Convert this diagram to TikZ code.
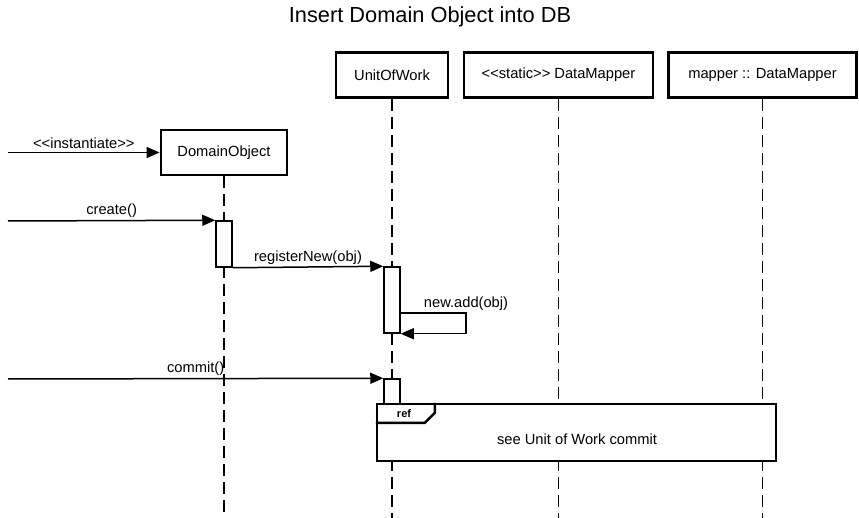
\documentclass[tikz,border=0pt]{standalone}
\usepackage{fontspec}
\setmainfont{Liberation Sans}
\usetikzlibrary{arrows.meta}

\begin{document}
\begin{tikzpicture}[x=1pt,y=-1pt,
    txt/.style={font=\fontsize{14.7}{17}\selectfont},
    head/.style={txt, draw, fill=white, line width=2.8pt, minimum height=45pt, inner sep=0pt},
    act/.style={draw, fill=white, line width=1.5pt, minimum width=16pt, inner sep=0pt},
    life/.style={line width=1.5pt, dash pattern=on 12pt off 6pt},
    msg/.style={line width=1.5pt, -{Triangle[length=13pt,width=11pt]}},
    lbl/.style={txt, inner sep=2pt, anchor=south}]

        \useasboundingbox (0,0) rectangle (859,518);

        %===========================
        % Title
        %===========================
        \node (T) at (430,17) [font=\fontsize{21.8}{25}\selectfont]{Insert Domain Object into DB};

        %===========================
        % Lifelines
        %===========================
        \draw node (UoW) at (392,75) [head, minimum width=112pt]{UnitOfWork};
        \draw node (SDM) at (558.5,75) [head, minimum width=189pt]{{<}{<}static{>}{>} DataMapper};
        \draw node (MDM) at (762.5,75) [head, minimum width=188pt]{mapper :: DataMapper};
        \draw node (DO) at (224,152.5) [head, minimum width=126pt]{DomainObject};

        \coordinate (UoWend) at (392,518);
        \coordinate (SDMend) at (558.5,518);
        \coordinate (MDMend) at (762.5,518);
        \coordinate (DOend) at (224,518);
        \draw[life] (UoW.south) -- (UoWend);
        \draw[life] (SDM.south) -- (SDMend);
        \draw[life] (MDM.south) -- (MDMend);
        \draw[life] (DO.south) -- (DOend);

        %===========================
        % Activations
        %===========================
        \draw node (A1) at (224,244) [act, minimum height=46pt]{};
        \draw node (A2) at (392,300) [act, minimum height=66pt]{};
        \draw node (A3) at (392,392) [act, minimum height=26pt]{};

        %===========================
        % Messages
        %===========================
        \coordinate (M0) at (8,152.5);
        \draw[msg] (M0) -- node[lbl, inner sep=3pt]{{<}{<}instantiate{>}{>}} (DO.west);

        \coordinate (M1) at (8,221);
        \draw[msg] (M1) -- node[lbl]{create()} (A1.north west);

        \draw[msg] (A1.south east) -- node[lbl]{registerNew(obj)} (A2.north west);

        % self call
        \coordinate (S1) at (A2.east |- 0,313);
        \coordinate (S2) at (466,313);
        \draw[msg] (S1) -- (S2) node[lbl]{new.add(obj)} |- (A2.south east);

        \coordinate (M3) at (8,379);
        \draw[msg] (M3) -- node[lbl]{commit()} (A3.north west);

        %===========================
        % Ref frame
        %===========================
        \draw node (F) at (576.5,432.5) [draw, fill=white, line width=2.4pt, minimum width=399pt, minimum height=57pt, inner sep=0pt]{};
        \draw[line width=2.4pt] (F.north west) ++(59,0) -- ++(0,10) -- ++(-10,10) -- ++(-49,0);
        \node (R) at (404,413.5) [font=\fontsize{11}{13}\selectfont\bfseries]{ref};
        \node (FT) at (577,439) [txt]{see Unit of Work commit};
\end{tikzpicture}
\end{document}
